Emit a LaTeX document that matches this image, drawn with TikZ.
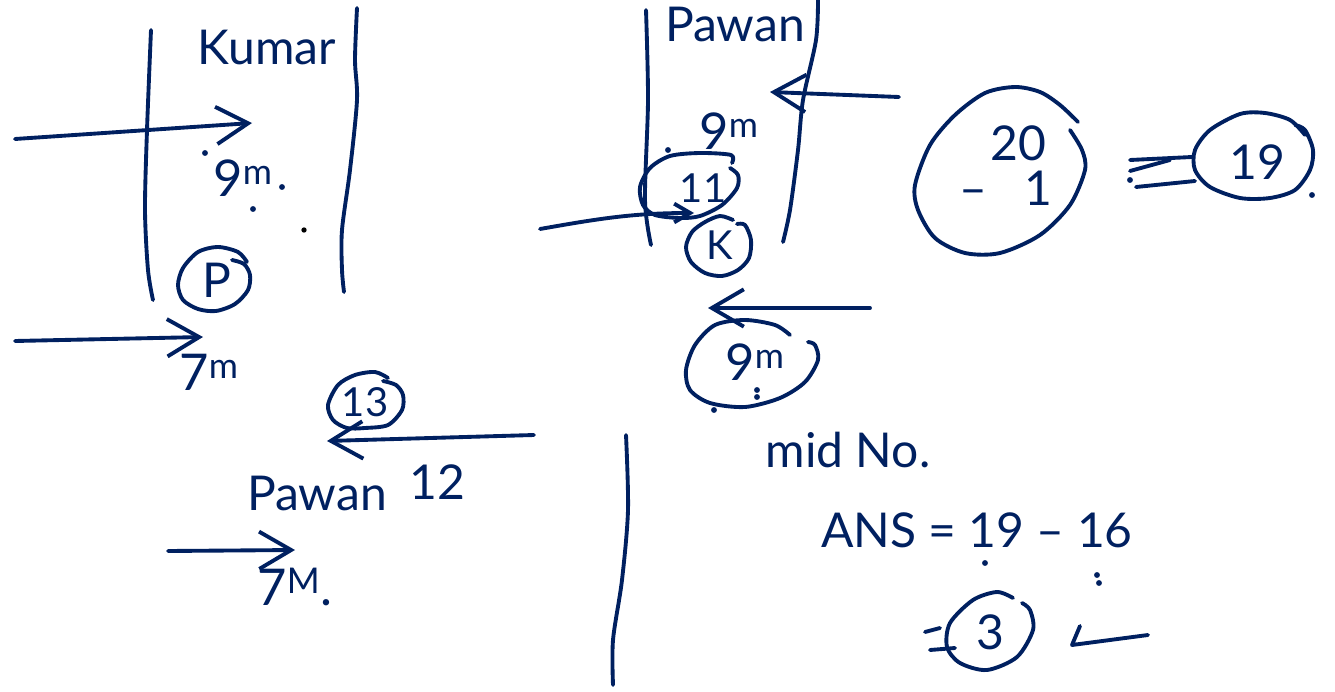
\documentclass[tikz,border=0pt]{standalone}
\usepackage{fontspec}
\setmainfont{Lato}
\usetikzlibrary{arrows.meta}
\definecolor{inkblue}{HTML}{002060}
\tikzstyle{ink}=[draw=inkblue, line width=2.9pt, line cap=round, line join=round]
\tikzstyle{wrote}=[text=inkblue, inner sep=0pt, font=\fontsize{36}{40}\selectfont]
\tikzstyle{small}=[wrote, font=\fontsize{30}{34}\selectfont]
\tikzstyle{hour}=[wrote, font=\fontsize{38}{44}\selectfont]
\tikzstyle{arrowto}=[ink, -{Straight Barb[length=24pt, width=28pt, line width=2.9pt]}]
\tikzstyle{arrowshort}=[ink, -{Straight Barb[length=12pt, width=14pt, line width=2.9pt]}]

\begin{document}
\begin{tikzpicture}[x=0.75pt, y=-0.75pt]
  \useasboundingbox (0,0) rectangle (1335,692);

  \node[wrote] (kumar) at (267,47) {Kumar};
  \node[hour] (nineA) at (243,178) {9\textsuperscript{m}};
  \node[wrote] (p) at (217,280) {P};
  \node[hour] (sevenA) at (209,372) {7\textsuperscript{m}};
  \node[small] (thirteen) at (365,402) {13};
  \node[wrote] (pawanB) at (317,493) {Pawan};
  \node[wrote] (twelve) at (437,482) {12};
  \node[hour] (sevenB) at (295,587) {7\textsuperscript{M}.};
  \node[wrote] (pawanA) at (735,24) {Pawan};
  \node[hour] (nineB) at (729,131) {9\textsuperscript{m}};
  \node[small] (eleven) at (703,188) {11};
  \node[small] (k) at (720,245) {K};
  \node[hour] (nineC) at (755,362) {9\textsuperscript{m}};
  \node[wrote] (twenty) at (1018,143) {20};
  \node[wrote] (minus) at (1006,188) {-- \ \ 1};
  \node[wrote] (nineteen) at (1257,162) {19};
  \node[wrote] (midno) at (848,450) {mid No.};
  \node[wrote] (ans) at (977,530) {ANS = 19 -- 16};
  \node[wrote] (three) at (990,632) {3};

  % rules
  \draw[ink] plot[smooth] coordinates {(151,30) (147,130) (145,210) (148,270) (153,300)};
  \draw[ink] plot[smooth] coordinates {(357,8) (355,60) (357,100) (350,170) (342,230) (342,270) (344,292)};
  \draw[ink] plot[smooth] coordinates {(646,10) (648,100) (645,200) (651,245)};
  \draw[ink] plot[smooth] coordinates {(818,0) (816,40) (803,100) (798,150) (790,210) (783,242)};
  \draw[ink] plot[smooth] coordinates {(626,435) (628,510) (622,580) (613,640) (613,685)};

  % rings
  \draw[ink] plot[smooth] coordinates {(247,262) (238,252) (218,247) (198,252) (183,268) (178,285) (183,300) (198,309) (216,311) (235,304) (248,290) (250,275) (244,264) (232,260)};
  \draw[ink] plot[smooth] coordinates {(388,378) (375,372) (355,375) (338,385) (328,405) (333,420) (347,428) (365,428) (388,425) (402,410) (403,395) (396,385) (383,381)};
  \draw[ink] plot[smooth] coordinates {(732,163) (731,155) (700,153) (670,156) (650,168) (640,187) (643,205) (655,215) (680,218) (700,216) (722,205) (737,188) (738,175) (730,168)};
  \draw[ink] plot[smooth] coordinates {(733,220) (720,216) (705,222) (692,232) (686,247) (691,262) (705,273) (722,276) (738,270) (749,258) (751,240) (745,225) (737,224)};
  \draw[ink] plot[smooth] coordinates {(790,335) (775,325) (745,320) (715,325) (695,345) (686,370) (690,390) (710,403) (745,407) (780,398) (805,382) (818,360) (815,345) (808,342)};
  \draw[ink] plot[smooth] coordinates {(1078,122) (1060,105) (1040,92) (1015,87) (985,93) (955,115) (930,145) (915,185) (918,210) (935,238) (965,253) (1000,253) (1040,235) (1070,205) (1085,170) (1082,150) (1070,130)};
  \draw[ink] plot[smooth] coordinates {(1305,135) (1290,120) (1265,113) (1240,114) (1210,130) (1195,150) (1195,170) (1210,187) (1240,198) (1270,198) (1295,190) (1310,170) (1313,150) (1305,130) (1295,125)};
  \draw[ink] plot[smooth] coordinates {(1013,598) (997,592) (973,600) (950,623) (947,647) (960,663) (987,670) (1017,657) (1033,630) (1030,610) (1022,603)};

  % arrows
  \coordinate (a1s) at (15,139);   \coordinate (a1e) at (252,123);
  \coordinate (a2s) at (15,341);   \coordinate (a2e) at (203,337);
  \coordinate (a3s) at (534,435);  \coordinate (a3e) at (327,441);
  \coordinate (a4s) at (168,551);  \coordinate (a4e) at (295,550);
  \coordinate (a5s) at (899,97);   \coordinate (a5e) at (770,92);
  \coordinate (a6s) at (540,229);  \coordinate (a6e) at (694,213);
  \coordinate (a7s) at (870,308);  \coordinate (a7e) at (708,308);
  \foreach \from/\to in {a1s/a1e, a2s/a2e, a3s/a3e, a4s/a4e, a5s/a5e, a7s/a7e}
    \draw[arrowto] (\from) -- (\to);
  \draw[arrowshort] (a6s) to[out=10, in=180] (a6e);

  % equal signs and tick
  \coordinate (e1) at (1130,160);  \coordinate (e2) at (1192,157);
  \coordinate (e3) at (1136,187);  \coordinate (e4) at (1195,181);
  \coordinate (e5) at (925,632);   \coordinate (e6) at (940,628);
  \coordinate (e7) at (930,650);   \coordinate (e8) at (955,648);
  \coordinate (e9) at (1130,171);  \coordinate (e10) at (1170,160);
  \coordinate (t1) at (1080,626);  \coordinate (t2) at (1072,645);
  \coordinate (t3) at (1148,635);
  \draw[ink] (e1) -- (e2);
  \draw[ink] (e9) -- (e10);
  \draw[ink] (e3) -- (e4);
  \draw[ink] (e5) -- (e6);
  \draw[ink] (e7) -- (e8);
  \draw[ink] (t1) -- (t2) -- (t3);

  % specks
  \foreach \x/\y in {205/153, 282/187, 253/209, 668/150, 757/390, 757/397, 985/563, 1097/575, 1099/583, 1312/195, 714/410, 1130/180}
    \fill[inkblue] (\x,\y) circle (2.2pt);
  \fill[black] (304,230) circle (2pt);
\end{tikzpicture}
\end{document}
